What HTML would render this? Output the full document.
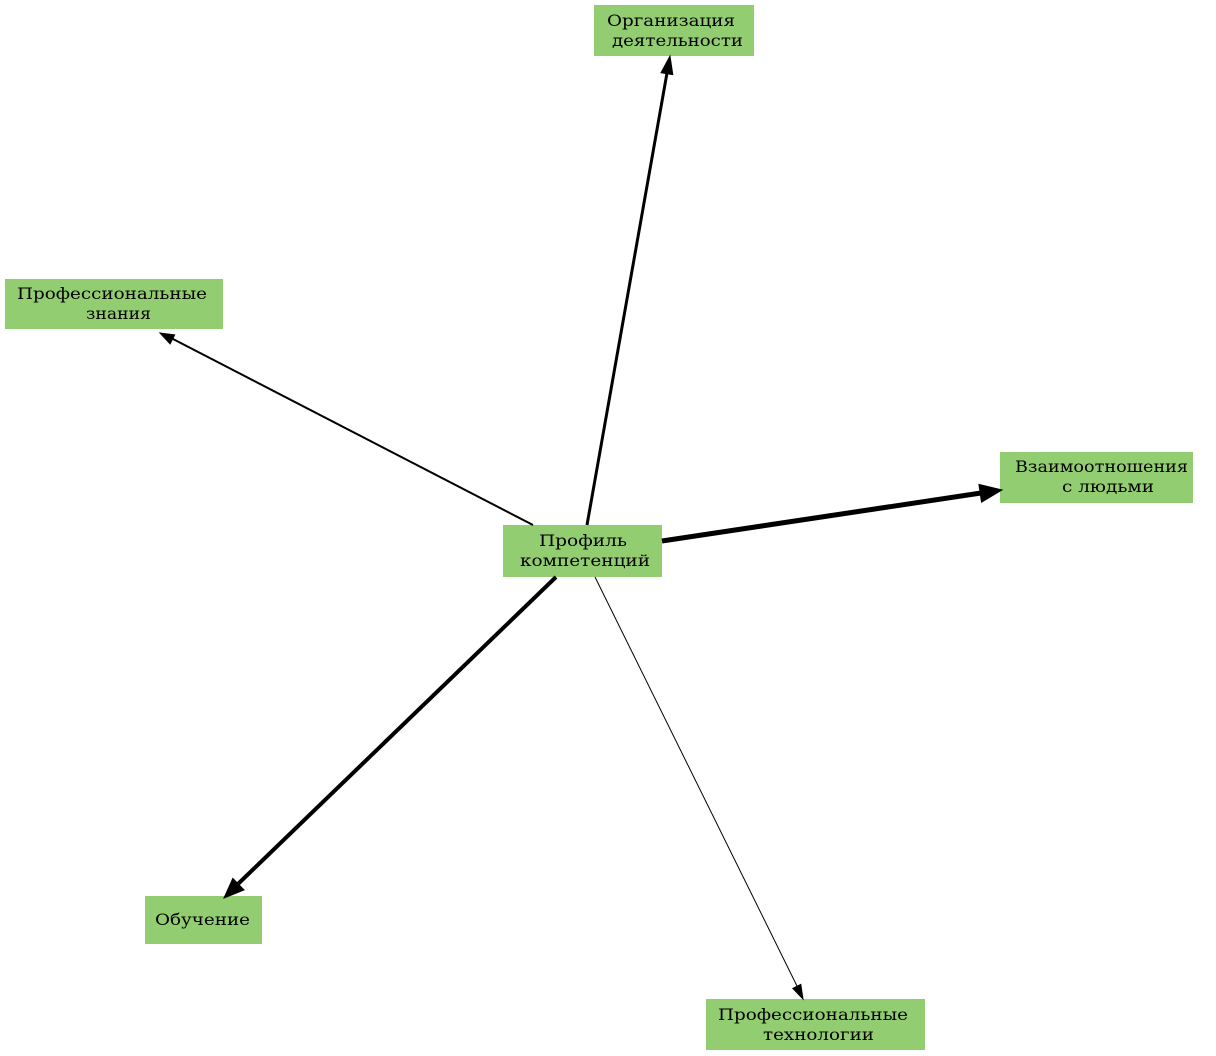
<!DOCTYPE html>
<html><head><meta charset="utf-8"><style>
html,body{margin:0;padding:0;background:#fff;}
svg{display:block;}
text{font-family:"DejaVu Serif","Liberation Serif",serif;font-size:16px;fill:#000;}
</style></head><body>
<svg width="1216" height="1056" viewBox="0 0 1216 1056" xmlns="http://www.w3.org/2000/svg">
<g fill="#93cd72">
<rect x="594" y="5" width="160" height="51"/>
<rect x="5" y="279" width="218" height="50"/>
<rect x="1000" y="452" width="193" height="51"/>
<rect x="503" y="525" width="159" height="52"/>
<rect x="145" y="896" width="117" height="48"/>
<rect x="706" y="999" width="219" height="51"/>
</g>
<g stroke="#000" fill="none">
<line x1="587" y1="525" x2="667" y2="73" stroke-width="3"/>
<line x1="533" y1="525" x2="173" y2="339" stroke-width="2"/>
<line x1="662" y1="541" x2="981" y2="493" stroke-width="5"/>
<line x1="556" y1="577" x2="238" y2="884" stroke-width="4"/>
<line x1="595" y1="577" x2="797" y2="986" stroke-width="1"/>
</g>
<g fill="#000" stroke="#000">
<polygon points="670,56 672.8,74.7 661,72.7"/>
<polygon points="160,333 174.7,334.9 170.1,343.9"/>
<polygon points="1002,490 981.5,502.2 978.9,484.4"/>
<polygon points="224,898 244,889.9 232.8,878.4"/>
<polygon points="803,999 800.8,984.4 792.8,988.4"/>
</g>
<g>
<text x="607" y="26" textLength="128" lengthAdjust="spacingAndGlyphs">Организация</text>
<text x="612" y="46" textLength="131" lengthAdjust="spacingAndGlyphs">деятельности</text>
<text x="17" y="299" textLength="190" lengthAdjust="spacingAndGlyphs">Профессиональные</text>
<text x="86" y="319" textLength="65" lengthAdjust="spacingAndGlyphs">знания</text>
<text x="1015" y="472" textLength="173" lengthAdjust="spacingAndGlyphs">Взаимоотношения</text>
<text x="1062" y="492" textLength="92" lengthAdjust="spacingAndGlyphs">с людьми</text>
<text x="539" y="546" textLength="88" lengthAdjust="spacingAndGlyphs">Профиль</text>
<text x="520" y="566" textLength="130" lengthAdjust="spacingAndGlyphs">компетенций</text>
<text x="155" y="925" textLength="95" lengthAdjust="spacingAndGlyphs">Обучение</text>
<text x="718" y="1020" textLength="190" lengthAdjust="spacingAndGlyphs">Профессиональные</text>
<text x="763" y="1040" textLength="111" lengthAdjust="spacingAndGlyphs">технологии</text>
</g>
</svg>
</body></html>
